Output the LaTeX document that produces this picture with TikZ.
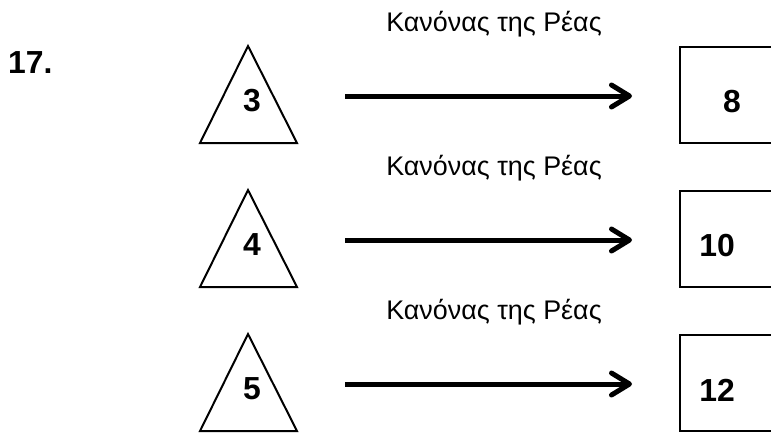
\documentclass[tikz,border=0pt]{standalone}
\usepackage{fontspec}
\setmainfont{Liberation Sans}
\usetikzlibrary{arrows.meta}
\begin{document}
\begin{tikzpicture}[x=1bp,y=-1bp,
  shapeline/.style={draw=black,line width=2bp,line join=miter},
  bignum/.style={font=\fontsize{32}{36}\selectfont\bfseries,inner sep=0pt,anchor=center},
  rulelabel/.style={font=\fontsize{27}{32}\selectfont,inner sep=0pt,anchor=center},
  rulearrow/.style={line width=5bp,-{Straight Barb[length=18bp,width=22bp,round]}}]
\clip (0,0) rectangle (771,432);
\node[font=\fontsize{32}{36}\selectfont\bfseries,inner sep=0pt,anchor=base west] (num) at (8,73) {17.};
\foreach \k/\t/\v/\bx in {0/3/8/732,1/4/10/717,2/5/12/717}{
  \begin{scope}[yshift=-\k*144bp]
    \coordinate (apex\k) at (248,46);
    \coordinate (bl\k) at (200,143);
    \coordinate (br\k) at (297,143);
    \draw[shapeline] (apex\k) -- (br\k) -- (bl\k) -- cycle;
    \node[bignum] (tri\k) at (252,101) {\t};
    \node[rulelabel] (lab\k) at (494,24) {Κανόνας της Ρέας};
    \coordinate (as\k) at (345,96);
    \coordinate (ae\k) at (632,96);
    \draw[rulearrow] (as\k) -- (ae\k);
    \draw[shapeline] (680,47) rectangle (800,143);
    \node[bignum] (box\k) at (\bx,102) {\v};
  \end{scope}
}
\end{tikzpicture}
\end{document}
